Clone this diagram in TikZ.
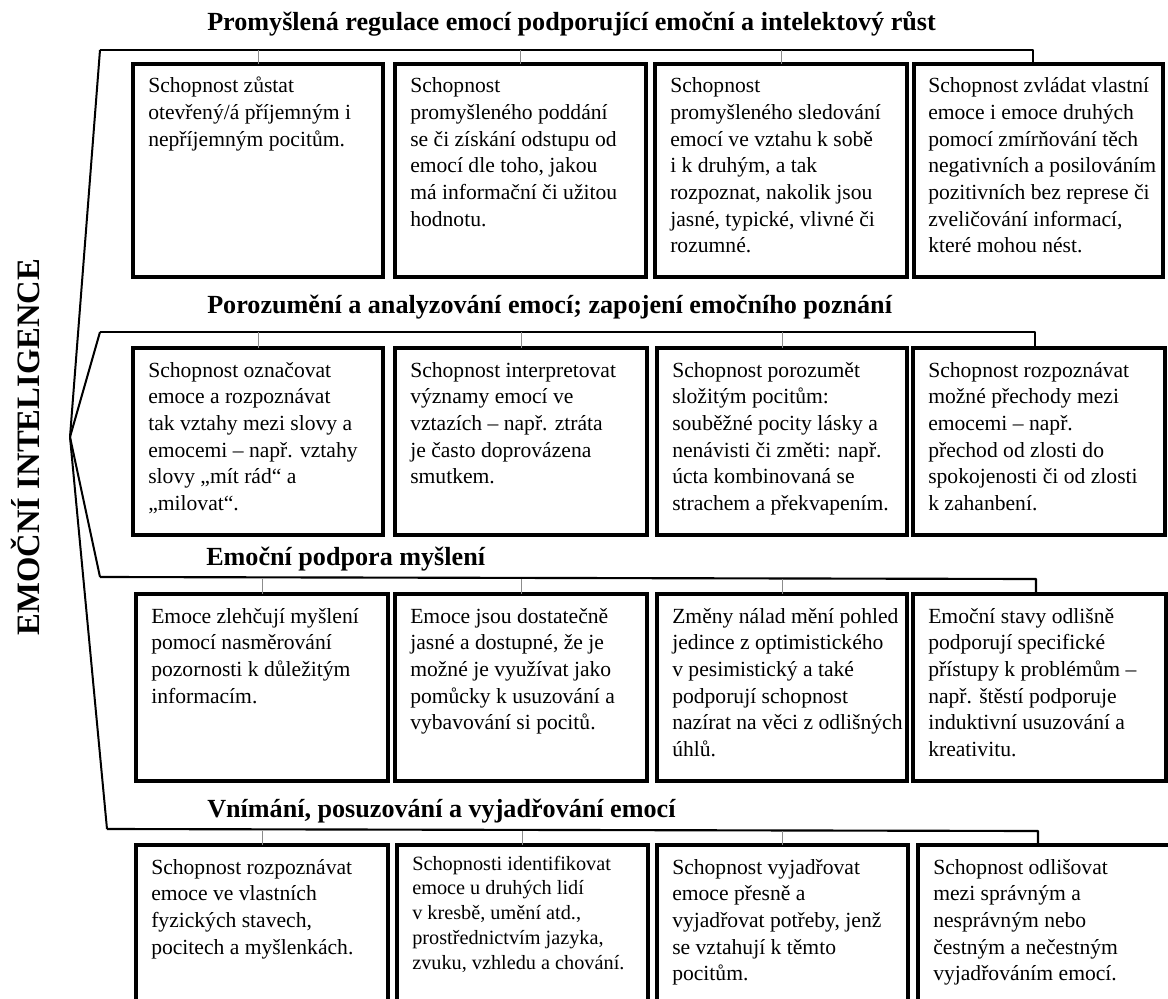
\documentclass[tikz,border=0pt]{standalone}
\usepackage{fontspec}
\setmainfont{Liberation Serif}
\usetikzlibrary{fit}
\newcommand\boxtext[1]{\parbox[t]{185pt}{\raggedright #1}}
\begin{document}
\begin{tikzpicture}[x=0.75pt,y=-0.75pt,
  box/.style={draw, line width=3pt, inner sep=0pt, outer sep=0pt},
  body/.style={anchor=base west, inner sep=0pt, font=\fontsize{16.2}{20}\selectfont},
  smallbody/.style={anchor=base west, inner sep=0pt, font=\fontsize{15.2}{18.6}\selectfont},
  heading/.style={anchor=base west, inner sep=0pt, font=\fontsize{19.6}{23}\selectfont\bfseries},
  bracket/.style={line width=1.6pt, line join=round},
  spoke/.style={line width=1.5pt, line join=round},
  tick/.style={line width=0.7pt, draw=black!45}]
\useasboundingbox (0,0) rectangle (1168,999);

% main label
\node[rotate=90, anchor=base, inner sep=0pt, font=\fontsize{24.5}{28}\selectfont\bfseries]
  (ei) at (39,447) {EMOČNÍ INTELIGENCE};

% fan of lines from the common apex
\coordinate (apex) at (70,437);
\coordinate (c1) at (100,50);
\coordinate (c2) at (100,332);
\coordinate (c3) at (100,577);
\coordinate (c4) at (107,829);
\coordinate (e1) at (1033,50);
\coordinate (e2) at (1035,332);
\coordinate (e3) at (1036,579);
\coordinate (e4) at (1038,831);
\draw[spoke] (c1) -- (apex) -- (c4);
\draw[spoke] (c2) -- (apex) -- (c3);

% headings
\node[heading] (h1) at (207,31) {Promyšlená regulace emocí podporující emoční a intelektový růst};
\node[heading] (h2) at (207,313) {Porozumění a analyzování emocí; zapojení emočního poznání};
\node[heading] (h3) at (206,565) {Emoční podpora myšlení};
\node[heading] (h4) at (207,817) {Vnímání, posuzování a vyjadřování emocí};

% row 1 boxes
\node[box, fit={(133,64) (383,277)}] (b11) {};
\node[box, fit={(395,64) (646,277)}] (b12) {};
\node[box, fit={(655,64) (907,277)}] (b13) {};
\node[box, fit={(914,64) (1163,277)}] (b14) {};
% row 2 boxes
\node[box, fit={(133,348) (383,535)}] (b21) {};
\node[box, fit={(395,348) (647,535)}] (b22) {};
\node[box, fit={(657,348) (907,535)}] (b23) {};
\node[box, fit={(913,348) (1165,535)}] (b24) {};
% row 3 boxes
\node[box, fit={(136,594) (388,781)}] (b31) {};
\node[box, fit={(395,594) (647,781)}] (b32) {};
\node[box, fit={(657,594) (907,781)}] (b33) {};
\node[box, fit={(913,594) (1166,781)}] (b34) {};
% row 4 boxes
\node[box, fit={(136,845) (388,1012)}] (b41) {};
\node[box, fit={(397,845) (648,1012)}] (b42) {};
\node[box, fit={(657,845) (908,1012)}] (b43) {};
\node[box, fit={(918,845) (1180,1012)}] (b44) {};

% brackets and the thin drops to the first three boxes of each row
\draw[bracket] (c1) -- (e1) -- (e1 |- b14.north);
\draw[bracket] (c2) -- (e2) -- (e2 |- b24.north);
\draw[bracket] (c3) -- (e3) -- (e3 |- b34.north);
\draw[bracket] (c4) -- (e4) -- (e4 |- b44.north);
\foreach \r/\e in {1/e1,2/e2,3/e3,4/e4}{
  \foreach \c in {1,2,3}{
    \draw[tick] (b\r\c.north) -- (b\r\c.north |- \e);
  }
}

% texts, row 1
\node[body] (t11) at ([shift={(15,29)}]b11.north west) {\boxtext{Schopnost zůstat\\otevřený/á příjemným i\\nepříjemným pocitům.}};
\node[body] (t12) at ([shift={(15,29)}]b12.north west) {\boxtext{Schopnost\\promyšleného poddání\\se či získání odstupu od\\emocí dle toho, jakou\\má informační či užitou\\hodnotu.}};
\node[body] (t13) at ([shift={(15,29)}]b13.north west) {\boxtext{Schopnost\\promyšleného sledování\\emocí ve vztahu k sobě\\i k druhým, a tak\\rozpoznat, nakolik jsou\\jasné, typické, vlivné či\\rozumné.}};
\node[body] (t14) at ([shift={(14,29)}]b14.north west) {\boxtext{Schopnost zvládat vlastní\\emoce i emoce druhých\\pomocí zmírňování těch\\negativních a posilováním\\pozitivních bez represe či\\zveličování informací,\\které mohou nést.}};

% texts, row 2
\node[body] (t21) at ([shift={(15,29)}]b21.north west) {\boxtext{Schopnost označovat\\emoce a rozpoznávat\\tak vztahy mezi slovy a\\emocemi – např. vztahy\\slovy „mít rád“ a\\„milovat“.}};
\node[body] (t22) at ([shift={(15,29)}]b22.north west) {\boxtext{Schopnost interpretovat\\významy emocí ve\\vztazích – např. ztráta\\je často doprovázena\\smutkem.}};
\node[body] (t23) at ([shift={(15,29)}]b23.north west) {\boxtext{Schopnost porozumět\\složitým pocitům:\\souběžné pocity lásky a\\nenávisti či změti: např.\\úcta kombinovaná se\\strachem a překvapením.}};
\node[body] (t24) at ([shift={(15,29)}]b24.north west) {\boxtext{Schopnost rozpoznávat\\možné přechody mezi\\emocemi – např.\\přechod od zlosti do\\spokojenosti či od zlosti\\k zahanbení.}};

% texts, row 3
\node[body] (t31) at ([shift={(15,29)}]b31.north west) {\boxtext{Emoce zlehčují myšlení\\pomocí nasměrování\\pozornosti k důležitým\\informacím.}};
\node[body] (t32) at ([shift={(15,29)}]b32.north west) {\boxtext{Emoce jsou dostatečně\\jasné a dostupné, že je\\možné je využívat jako\\pomůcky k usuzování a\\vybavování si pocitů.}};
\node[body] (t33) at ([shift={(15,29)}]b33.north west) {\boxtext{Změny nálad mění pohled\\jedince z optimistického\\v pesimistický a také\\podporují schopnost\\nazírat na věci z odlišných\\úhlů.}};
\node[body] (t34) at ([shift={(15,29)}]b34.north west) {\boxtext{Emoční stavy odlišně\\podporují specifické\\přístupy k problémům –\\např. štěstí podporuje\\induktivní usuzování a\\kreativitu.}};

% texts, row 4
\node[body] (t41) at ([shift={(15,29)}]b41.north west) {\boxtext{Schopnost rozpoznávat\\emoce ve vlastních\\fyzických stavech,\\pocitech a myšlenkách.}};
\node[smallbody] (t42) at ([shift={(15,25)}]b42.north west) {\boxtext{Schopnosti identifikovat\\emoce u druhých lidí\\v kresbě, umění atd.,\\prostřednictvím jazyka,\\zvuku, vzhledu a chování.}};
\node[body] (t43) at ([shift={(15,29)}]b43.north west) {\boxtext{Schopnost vyjadřovat\\emoce přesně a\\vyjadřovat potřeby, jenž\\se vztahují k těmto\\pocitům.}};
\node[body] (t44) at ([shift={(15,29)}]b44.north west) {\boxtext{Schopnost odlišovat\\mezi správným a\\nesprávným nebo\\čestným a nečestným\\vyjadřováním emocí.}};
\end{tikzpicture}
\end{document}
